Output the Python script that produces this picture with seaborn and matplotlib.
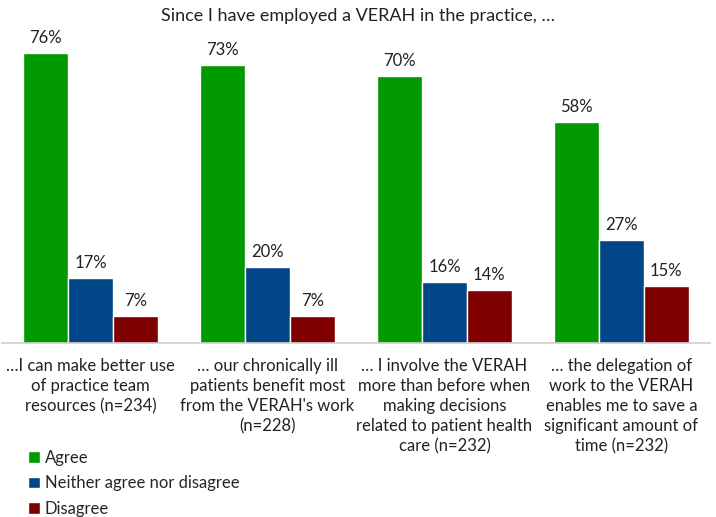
import matplotlib
matplotlib.use('Agg')
import matplotlib.pyplot as plt
import seaborn as sns
import pandas as pd
from matplotlib.patches import Patch

# data
statements = [
    "…I can make better use\nof practice team\nresources (n=234)",
    "… our chronically ill\npatients benefit most\nfrom the VERAH's work\n(n=228)",
    "… I involve the VERAH\nmore than before when\nmaking decisions\nrelated to patient health\ncare (n=232)",
    "… the delegation of\nwork to the VERAH\nenables me to save a\nsignificant amount of\ntime (n=232)",
]
responses = ["Agree", "Neither agree nor disagree", "Disagree"]
agree = [76, 73, 70, 58]
neither = [17, 20, 16, 27]
disagree = [7, 7, 14, 15]
colors = ["#009900", "#004586", "#800000"]

rows = []
for i, s in enumerate(statements):
    for resp, vals in zip(responses, [agree, neither, disagree]):
        rows.append({"statement": s, "response": resp, "pct": vals[i]})
df = pd.DataFrame(rows)

sns.set_theme(style="white")
plt.rcParams['font.family'] = ['Lato', 'DejaVu Sans']

fig = plt.figure(figsize=(7.16, 5.17), dpi=100)
ax = fig.add_axes([2 / 716, 174 / 517, 708 / 716, 305 / 517])

sns.barplot(data=df, x="statement", y="pct", hue="response", order=statements,
            hue_order=responses, palette=colors, width=0.76, saturation=1,
            legend=False, ax=ax)

for cont in ax.containers:
    ax.bar_label(cont, fmt='%d%%', padding=5, fontsize=12, color='#222222')

ax.set_ylim(0, 80)
ax.set_xlim(-0.5, 3.5)
ax.set_yticks([])
ax.set_xticks(range(len(statements)))
ax.set_xticklabels(statements, linespacing=1.3)
ax.set_xlabel("")
ax.set_ylabel("")
ax.tick_params(axis='x', length=0, pad=11, labelsize=12, colors='#222222')
for side in ["top", "right", "left"]:
    ax.spines[side].set_visible(False)
ax.spines["bottom"].set_color("#d0d0d0")
ax.spines["bottom"].set_linewidth(1.2)

fig.text(0.5, 0.97, "Since I have employed a VERAH in the practice, …",
         ha='center', va='center', fontsize=13, color='#222222')

handles = [Patch(facecolor=c, label=r) for c, r in zip(colors, responses)]
fig.legend(handles=handles, loc='upper left', bbox_to_anchor=(0.03, 0.143),
           frameon=False, fontsize=12, handlelength=0.7, handleheight=0.7,
           handletextpad=0.3, labelspacing=0.58, borderaxespad=0)

fig.savefig("out.png", dpi=100)
